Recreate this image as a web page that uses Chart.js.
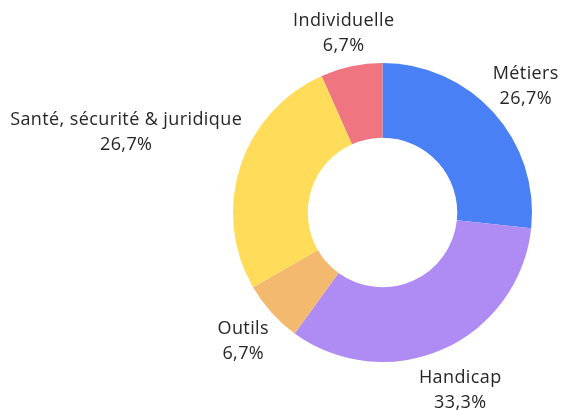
<!DOCTYPE html>
<html><head><meta charset="utf-8">
<script src="https://cdn.jsdelivr.net/npm/chart.js@4"></script>
<style>html,body{margin:0;padding:0;background:#fff}#wrap{width:566px;height:410px}</style>
</head><body><div id="wrap"><canvas id="c" width="566" height="410"></canvas></div>
<script>
const categories = ["Métiers", "Handicap", "Outils", "Santé, sécurité & juridique", "Individuelle"];
const values = [4, 5, 1, 4, 1];
const percentLabels = ["26,7%", "33,3%", "6,7%", "26,7%", "6,7%"];
const colors = ["#4a80f5", "#ae8cf4", "#f2b96f", "#ffdd5a", "#ef7580"];

const FONT = "18px 'Open Sans'";
const LINE_H = 25;
const PAD = 2;
const TEXT_SHIFT_Y = 3;

const outsideLabels = {
  id: 'outsideLabels',
  afterDatasetsDraw(chart) {
    const ctx = chart.ctx;
    const meta = chart.getDatasetMeta(0);
    ctx.save();
    ctx.font = FONT;
    ctx.letterSpacing = '0.4px';
    ctx.fillStyle = '#262626';
    ctx.textAlign = 'center';
    ctx.textBaseline = 'middle';
    meta.data.forEach((arc, i) => {
      const p = arc.getProps(['x','y','startAngle','endAngle','outerRadius'], true);
      const mid = (p.startAngle + p.endAngle) / 2;
      const ux = Math.cos(mid), uy = Math.sin(mid);
      const lines = [categories[i], percentLabels[i]];
      const w = Math.max(...lines.map(l => ctx.measureText(l).width));
      const hw = w / 2, hh = lines.length * LINE_H / 2;
      const d = p.outerRadius + PAD + hw * Math.abs(ux) + hh * Math.abs(uy);
      const cx = p.x + ux * d, cy = p.y + uy * d + TEXT_SHIFT_Y;
      lines.forEach((l, k) => {
        ctx.fillText(l, cx, cy - hh + LINE_H * (k + 0.5));
      });
    });
    ctx.restore();
  }
};

new Chart(document.getElementById('c'), {
  type: 'doughnut',
  data: {
    labels: categories,
    datasets: [{ data: values, backgroundColor: colors, borderWidth: 0 }]
  },
  options: {
    responsive: false,
    animation: false,
    cutout: '50%',
    layout: { padding: { left: 233, right: 34, top: 63, bottom: 48 } },
    plugins: { legend: { display: false }, tooltip: { enabled: false } }
  },
  plugins: [outsideLabels]
});
</script>
</body></html>
